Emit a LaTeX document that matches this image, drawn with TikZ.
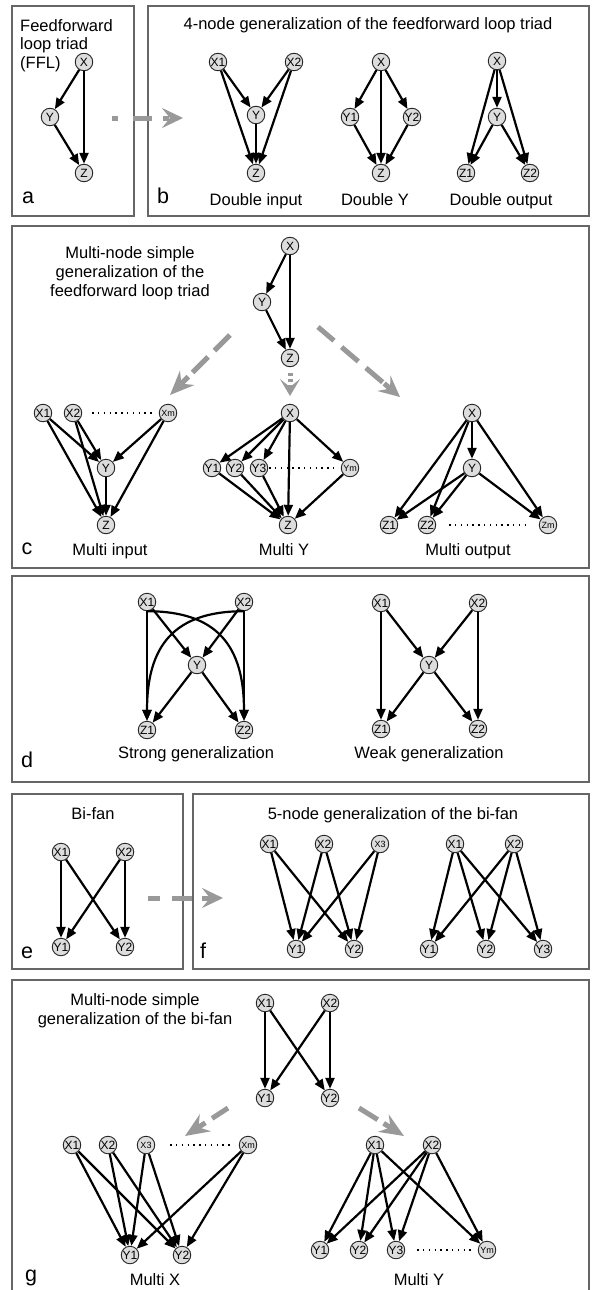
\documentclass[tikz,border=0pt]{standalone}
\usepackage{fontspec}
\setmainfont{Liberation Sans}
\usetikzlibrary{arrows.meta}
\begin{document}
\begin{tikzpicture}[x=1pt,y=-1pt,
 nd/.style={circle,draw=black!85,line width=0.9pt,fill=gray!27,minimum size=17.5pt,inner sep=0pt,font=\fontsize{12}{12}\selectfont},
 nds/.style={nd,font=\fontsize{9}{9}\selectfont},
 arr/.style={line width=2.2pt,-{Triangle[length=11pt,width=9pt]}},
 panel/.style={draw=black!60,line width=1.5pt},
 lbl/.style={font=\fontsize{16.5}{18}\selectfont,anchor=base,inner sep=0pt},
 lblw/.style={lbl,anchor=base west},
 letter/.style={font=\fontsize{21.5}{22}\selectfont,anchor=base,inner sep=0pt},
 big/.style={draw=gray!80,line width=5pt,-{Stealth[length=#1,width=20pt,inset=8pt]}},
 big/.default=21pt,
 dots/.style={line width=1.3pt,dash pattern=on 1.3pt off 4.5pt}
]
\fill[white] (0,0) rectangle (592,1290);
\useasboundingbox (0,0) rectangle (592,1290);

% panels
\draw[panel] (12,6) rectangle (134,216);
\draw[panel] (148,6) rectangle (589,216);
\draw[panel] (12,226) rectangle (589,568);
\draw[panel] (12,576) rectangle (589,782);
\draw[panel] (12,794) rectangle (183,969);
\draw[panel] (193,794) rectangle (589,969);
\draw[panel] (12,1292) -- (12,980) -- (589,980) -- (589,1292);

% ---------- a ----------
\node[lblw] (ta1) at (20,32) {Feedforward};
\node[lblw] (ta2) at (20,50) {loop triad};
\node[lblw] (ta3) at (20,68) {(FFL)};
\node[letter] (la) at (28,203) {a};
\node[nd] (aX) at (84,62) {X};
\node[nd] (aY) at (50,117) {Y};
\node[nd] (aZ) at (84,173) {Z};
\foreach \s/\t in {aX/aY,aX/aZ,aY/aZ} \draw[arr] (\s) -- (\t);
\coordinate (ab0) at (112,118); \coordinate (ab1) at (183,118);
\draw[big, dash pattern=on 6pt off 15pt on 19pt off 11pt] (ab0) -- (ab1);

% ---------- b ----------
\node[lbl] (tb) at (368,30) {4-node generalization of the feedforward loop triad};
\node[letter] (lb) at (163,203) {b};
\node[nd] (b1X1) at (218,62) {X1};
\node[nd] (b1X2) at (294,62) {X2};
\node[nd] (b1Y) at (256,115) {Y};
\node[nd] (b1Z) at (256,173) {Z};
\foreach \s/\t in {b1X1/b1Y,b1X2/b1Y,b1X1/b1Z,b1X2/b1Z,b1Y/b1Z} \draw[arr] (\s) -- (\t);
\node[lbl] (tb1) at (256,205) {Double input};
\node[nd] (b2X) at (381,62) {X};
\node[nd] (b2Y1) at (350,117) {Y1};
\node[nd] (b2Y2) at (412,117) {Y2};
\node[nd] (b2Z) at (381,173) {Z};
\foreach \s/\t in {b2X/b2Y1,b2X/b2Y2,b2X/b2Z,b2Y1/b2Z,b2Y2/b2Z} \draw[arr] (\s) -- (\t);
\node[lbl] (tb2) at (375,205) {Double Y};
\node[nd] (b3X) at (497,61) {X};
\node[nd] (b3Y) at (497,117) {Y};
\node[nd] (b3Z1) at (466,173) {Z1};
\node[nd] (b3Z2) at (530,173) {Z2};
\foreach \s/\t in {b3X/b3Y,b3X/b3Z1,b3X/b3Z2,b3Y/b3Z1,b3Y/b3Z2} \draw[arr] (\s) -- (\t);
\node[lbl] (tb3) at (501,205) {Double output};

% ---------- c ----------
\node[lbl] (tc1) at (130,258) {Multi-node simple};
\node[lbl] (tc2) at (130,277) {generalization of the};
\node[lbl] (tc3) at (130,296) {feedforward loop triad};
\node[letter] (lc) at (27,554) {c};
\node[nd] (cX) at (290,246) {X};
\node[nd] (cY) at (262,302) {Y};
\node[nd] (cZ) at (290,358) {Z};
\foreach \s/\t in {cX/cY,cX/cZ,cY/cZ} \draw[arr] (\s) -- (\t);
\coordinate (cl0) at (230,335); \coordinate (cl1) at (170,395);
\draw[big=24pt, dash pattern=on 22pt off 9pt on 22pt off 6pt] (cl0) -- (cl1);
\coordinate (cm0) at (290,373); \coordinate (cm1) at (290,396);
\draw[big=17pt, dash pattern=on 3pt off 3pt] (cm0) -- (cm1);
\coordinate (cr0) at (318,327); \coordinate (cr1) at (400,397);
\draw[big=21pt, dash pattern=on 21pt off 10pt on 22pt off 10pt on 22pt off 2pt] (cr0) -- (cr1);
% multi input
\node[nd] (ciX1) at (43,413) {X1};
\node[nd] (ciX2) at (73,413) {X2};
\node[nds] (ciXm) at (168,413) {Xm};
\node[nd] (ciY) at (106,468) {Y};
\node[nd] (ciZ) at (106,525) {Z};
\foreach \s/\t in {ciX1/ciY,ciX2/ciY,ciXm/ciY,ciX1/ciZ,ciX2/ciZ,ciXm/ciZ,ciY/ciZ} \draw[arr] (\s) -- (\t);
\draw[dots, shorten <=10pt, shorten >=6pt] (ciX2) -- (ciXm);
\node[lbl] (tci) at (110,555) {Multi input};
% multi Y
\node[nd] (cyX) at (290,413) {X};
\node[nd] (cyY1) at (212,468) {Y1};
\node[nd] (cyY2) at (235,468) {Y2};
\node[nd] (cyY3) at (259,468) {Y3};
\node[nds] (cyYm) at (350,468) {Ym};
\node[nd] (cyZ) at (288,525) {Z};
\foreach \s/\t in {cyX/cyY1,cyX/cyY2,cyX/cyY3,cyX/cyYm,cyX/cyZ,cyY1/cyZ,cyY2/cyZ,cyY3/cyZ,cyYm/cyZ} \draw[arr] (\s) -- (\t);
\draw[dots, shorten <=1pt, shorten >=4pt] (cyY3) -- (cyYm);
\node[lbl] (tcy) at (284,555) {Multi Y};
% multi output
\node[nd] (coX) at (472,413) {X};
\node[nd] (coY) at (472,468) {Y};
\node[nd] (coZ1) at (389,525) {Z1};
\node[nd] (coZ2) at (427,525) {Z2};
\node[nds] (coZm) at (548,525) {Zm};
\foreach \s/\t in {coX/coY,coX/coZ1,coX/coZ2,coX/coZm,coY/coZ1,coY/coZ2,coY/coZm} \draw[arr] (\s) -- (\t);
\draw[dots, shorten <=13pt, shorten >=10pt] (coZ2) -- (coZm);
\node[lbl] (tco) at (468,555) {Multi output};

% ---------- d ----------
\node[letter] (ld) at (27,767) {d};
\node[nd] (dX1) at (147,602) {X1};
\node[nd] (dX2) at (244,602) {X2};
\node[nd] (dY) at (197,665) {Y};
\node[nd] (dZ1) at (147,730) {Z1};
\node[nd] (dZ2) at (244,730) {Z2};
\foreach \s/\t in {dX1/dY,dX2/dY,dX1/dZ1,dX2/dZ2,dY/dZ1,dY/dZ2} \draw[arr] (\s) -- (\t);
\draw[arr] (dX1.south) .. controls +(70,0) and +(0,-75) .. (dZ2.north);
\draw[arr] (dX2.south) .. controls +(-70,0) and +(0,-75) .. (dZ1.north);
\node[lbl] (td1) at (196,758) {Strong generalization};
\node[nd] (wX1) at (381,603) {X1};
\node[nd] (wX2) at (478,603) {X2};
\node[nd] (wY) at (429,665) {Y};
\node[nd] (wZ1) at (381,729) {Z1};
\node[nd] (wZ2) at (478,729) {Z2};
\foreach \s/\t in {wX1/wY,wX2/wY,wX1/wZ1,wX2/wZ2,wY/wZ1,wY/wZ2} \draw[arr] (\s) -- (\t);
\node[lbl] (td2) at (429,758) {Weak generalization};

% ---------- e ----------
\node[lbl] (te) at (93,819) {Bi-fan};
\node[letter] (le) at (27,958) {e};
\node[nd] (eX1) at (61,852) {X1};
\node[nd] (eX2) at (125,852) {X2};
\node[nd] (eY1) at (61,947) {Y1};
\node[nd] (eY2) at (125,947) {Y2};
\foreach \s/\t in {eX1/eY1,eX1/eY2,eX2/eY1,eX2/eY2} \draw[arr] (\s) -- (\t);
\coordinate (ef0) at (148,898); \coordinate (ef1) at (223,898);
\draw[big, dash pattern=on 12pt off 12pt on 20pt off 10pt] (ef0) -- (ef1);

% ---------- f ----------
\node[lbl] (tf) at (393,819) {5-node generalization of the bi-fan};
\node[letter] (lf) at (203,958) {f};
\node[nd] (fX1) at (269,844) {X1};
\node[nd] (fX2) at (324,844) {X2};
\node[nds] (fX3) at (380,844) {X3};
\node[nd] (fY1) at (296,949) {Y1};
\node[nd] (fY2) at (354,949) {Y2};
\foreach \s/\t in {fX1/fY1,fX1/fY2,fX2/fY1,fX2/fY2,fX3/fY1,fX3/fY2} \draw[arr] (\s) -- (\t);
\node[nd] (gX1) at (455,844) {X1};
\node[nd] (gX2) at (514,844) {X2};
\node[nd] (gY1) at (429,949) {Y1};
\node[nd] (gY2) at (486,949) {Y2};
\node[nd] (gY3) at (543,949) {Y3};
\foreach \s/\t in {gX1/gY1,gX1/gY2,gX1/gY3,gX2/gY1,gX2/gY2,gX2/gY3} \draw[arr] (\s) -- (\t);

% ---------- g ----------
\node[lbl] (tg1) at (135,1005) {Multi-node simple};
\node[lbl] (tg2) at (135,1024) {generalization of the bi-fan};
\node[letter] (lg) at (31,1281) {g};
\node[nd] (tX1) at (265,1003) {X1};
\node[nd] (tX2) at (330,1003) {X2};
\node[nd] (tY1) at (265,1098) {Y1};
\node[nd] (tY2) at (330,1098) {Y2};
\foreach \s/\t in {tX1/tY1,tX1/tY2,tX2/tY1,tX2/tY2} \draw[arr] (\s) -- (\t);
\coordinate (gl0) at (228,1108); \coordinate (gl1) at (185,1136);
\draw[big=24pt, dash pattern=on 19pt off 8pt] (gl0) -- (gl1);
\coordinate (gr0) at (359,1108); \coordinate (gr1) at (404,1136);
\draw[big=24pt, dash pattern=on 22pt off 7pt] (gr0) -- (gr1);
% multi X
\node[nd] (mX1) at (72,1145) {X1};
\node[nd] (mX2) at (108,1145) {X2};
\node[nds] (mX3) at (146,1145) {X3};
\node[nds] (mXm) at (248,1145) {Xm};
\node[nd] (mY1) at (130,1255) {Y1};
\node[nd] (mY2) at (182,1255) {Y2};
\foreach \s/\t in {mX1/mY1,mX1/mY2,mX2/mY1,mX2/mY2,mX3/mY1,mX3/mY2,mXm/mY1,mXm/mY2} \draw[arr] (\s) -- (\t);
\draw[dots, shorten <=15pt, shorten >=6pt] (mX3) -- (mXm);
\node[lbl] (tmx) at (155,1285) {Multi X};
% multi Y
\node[nd] (nX1) at (375,1145) {X1};
\node[nd] (nX2) at (432,1145) {X2};
\node[nd] (nY1) at (320,1250) {Y1};
\node[nd] (nY2) at (359,1250) {Y2};
\node[nd] (nY3) at (396,1250) {Y3};
\node[nds] (nYm) at (487,1250) {Ym};
\foreach \s/\t in {nX1/nY1,nX1/nY2,nX1/nY3,nX1/nYm,nX2/nY1,nX2/nY2,nX2/nY3,nX2/nYm} \draw[arr] (\s) -- (\t);
\draw[dots, shorten <=12pt, shorten >=3pt] (nY3) -- (nYm);
\node[lbl] (tmy) at (419,1285) {Multi Y};
\end{tikzpicture}
\end{document}
